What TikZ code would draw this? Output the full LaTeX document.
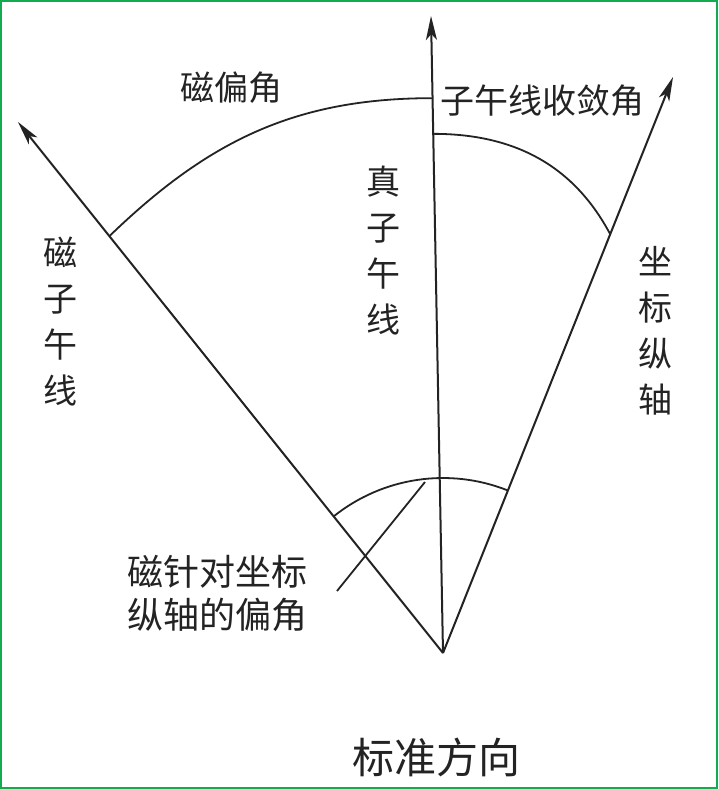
\documentclass[tikz,border=0pt]{standalone}
\usepackage{fontspec}
\newfontfamily\cjk{Noto Sans CJK SC}
\usetikzlibrary{arrows.meta,calc}
\definecolor{ink}{RGB}{35,35,35}
\definecolor{frame}{RGB}{20,170,80}
\tikzset{
  ray/.style={line width=2pt, draw=ink, -{Stealth[length=24pt,width=11pt,inset=6pt]}},
  arcline/.style={line width=1.8pt, draw=ink},
  lbl/.style={text=ink, inner sep=0pt, font=\cjk\fontsize{34}{46}\selectfont},
  vlbl/.style={lbl, align=center},
}
\begin{document}
\begin{tikzpicture}[x=1pt,y=-1pt]
\useasboundingbox (0,0) rectangle (718,789);
\fill[white] (0,0) rectangle (718,789);
\draw[frame, line width=2pt] (1,1) rectangle (717,788);

\coordinate (O) at (443,653);
\coordinate (M) at (18,122);
\coordinate (T) at (431,16);
\coordinate (G) at (673,77);

\draw[ray] (O) -- (M);
\draw[ray] (O) -- (T);
\draw[ray] (O) -- (G);

% big arc: magnetic declination
\coordinate (A) at ($(O)!0.785!(M)$);
\coordinate (B) at ($(O)!0.871!(T)$);
\draw[arcline] (A) to[out=44,in=180] (B);

% right arc: meridian convergence
\coordinate (C) at ($(O)!0.815!(T)$);
\coordinate (D) at ($(O)!0.727!(G)$);
\draw[arcline] (C) to[out=0,in=118] (D);

% small arc near apex
\coordinate (E) at ($(O)+(-128.7:175)$);
\draw[arcline] (E) arc[start angle=-128.7, end angle=-68.2, radius=175];

% leader
\coordinate (L1) at (425,482);
\coordinate (L2) at (337,591);
\draw[arcline] (L1) -- (L2);

\node[lbl] (t1) at (231,88) {磁偏角};
\node[lbl, anchor=west] (t2) at (440,101) {子午线收敛角};
\node[vlbl] (t3) at (383,250) {真\\子\\午\\线};
\node[vlbl] (t4) at (60,322) {磁\\子\\午\\线};
\node[vlbl] (t5) at (655,331) {坐\\标\\纵\\轴};
\node[lbl, align=left, anchor=west, font=\cjk\fontsize{36}{43}\selectfont] (t6) at (127,593) {磁针对坐标\\纵轴的偏角};
\node[lbl, font=\cjk\fontsize{42}{50}\selectfont] (t7) at (436,757) {标准方向};
\end{tikzpicture}
\end{document}
